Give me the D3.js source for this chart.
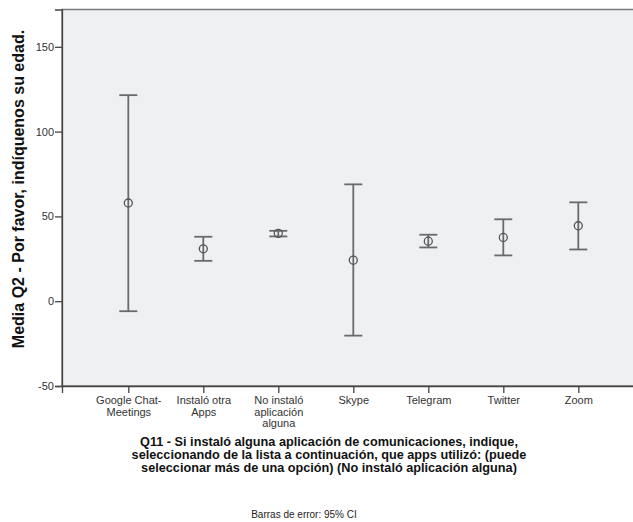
<!DOCTYPE html>
<html>
<head>
<meta charset="utf-8">
<script src="https://cdn.jsdelivr.net/npm/d3@7"></script>
<style>
  html, body { margin: 0; padding: 0; background: #ffffff; }
  svg { display: block; font-family: "Liberation Sans", Arial, sans-serif; }
</style>
</head>
<body>
<svg id="chart" width="633" height="522"></svg>
<script>
const categories = ["Google Chat-Meetings", "Instaló otra Apps", "No instaló aplicación alguna", "Skype", "Telegram", "Twitter", "Zoom"];
const tickLabels = [["Google Chat-", "Meetings"], ["Instaló otra", "Apps"], ["No instaló", "aplicación", "alguna"], ["Skype"], ["Telegram"], ["Twitter"], ["Zoom"]];
const means = [57.9, 30.9, 40.0, 24.2, 35.4, 37.6, 44.5];
const lowerCI = [-5.9, 23.8, 38.2, -20.3, 31.7, 27.0, 30.5];
const upperCI = [121.5, 38.0, 41.5, 68.9, 39.2, 48.3, 58.3];
const yTicks = [-50, 0, 50, 100, 150];
const yTitle = "Media Q2 - Por favor, indíquenos su edad.";
const xTitle = ["Q11 - Si instaló alguna aplicación de comunicaciones, indique,", "seleccionando de la lista a continuación, que apps utilizó: (puede", "seleccionar más de una opción) (No instaló aplicación alguna)"];
const footnote = "Barras de error: 95% CI";

(function () {
const svg = d3.select("#chart");
const pLeft = 62, pRight = 644.6, pTop = 9.5, pBottom = 386;

const x = d3.scalePoint().domain(categories).range([pLeft, pRight]).padding(0.884);
const y = d3.scaleLinear().domain([-50, 172]).range([pBottom, pTop]);

const data = categories.map((c, i) => ({ c, m: means[i], lo: lowerCI[i], hi: upperCI[i] }));

// plot background
svg.append("rect")
  .attr("x", pLeft).attr("y", pTop)
  .attr("width", pRight - pLeft).attr("height", pBottom - pTop)
  .attr("fill", "#eff0f2")
  .attr("stroke", "#7a7a7a").attr("stroke-width", 1.5);

// y axis
const yAxis = d3.axisLeft(y).tickValues(yTicks).tickSize(7).tickPadding(1).tickFormat(d => String(d));
const gy = svg.append("g").attr("transform", `translate(${pLeft},0)`).call(yAxis);
gy.select(".domain").attr("stroke", "#444").attr("stroke-width", 1.3);
gy.selectAll(".tick line").attr("stroke", "#444").attr("stroke-width", 1.3);
gy.selectAll(".tick text").attr("font-size", 11).attr("fill", "#333").attr("font-family", "Liberation Sans, Arial, sans-serif");

// x axis
const xAxis = d3.axisBottom(x).tickSize(7).tickFormat("");
const gx = svg.append("g").attr("transform", `translate(0,${pBottom})`).call(xAxis);
gx.select(".domain").attr("stroke", "#444").attr("stroke-width", 1.3);
gx.selectAll(".tick line").attr("stroke", "#444").attr("stroke-width", 1.3);
gx.selectAll(".tick").each(function (d, i) {
  const t = d3.select(this).append("text")
    .attr("text-anchor", "middle")
    .attr("font-size", 11)
    .attr("fill", "#333")
    .attr("font-family", "Liberation Sans, Arial, sans-serif");
  tickLabels[i].forEach((line, j) => {
    t.append("tspan").attr("x", 0).attr("y", 18 + j * 11.5).text(line);
  });
});

// error bars
const capW = 9;
const g = svg.append("g").attr("stroke", "#6a6a6a").attr("stroke-width", 1.8).attr("fill", "none");
g.selectAll("line.v").data(data).join("line").attr("class", "v")
  .attr("x1", d => x(d.c)).attr("x2", d => x(d.c))
  .attr("y1", d => y(d.hi)).attr("y2", d => y(d.lo));
g.selectAll("line.t").data(data).join("line").attr("class", "t")
  .attr("x1", d => x(d.c) - capW).attr("x2", d => x(d.c) + capW)
  .attr("y1", d => y(d.hi)).attr("y2", d => y(d.hi));
g.selectAll("line.b").data(data).join("line").attr("class", "b")
  .attr("x1", d => x(d.c) - capW).attr("x2", d => x(d.c) + capW)
  .attr("y1", d => y(d.lo)).attr("y2", d => y(d.lo));
svg.append("g").selectAll("circle").data(data).join("circle")
  .attr("cx", d => x(d.c)).attr("cy", d => y(d.m)).attr("r", 4)
  .attr("fill", "none").attr("stroke", "#555").attr("stroke-width", 1.3);

// y title
svg.append("text")
  .attr("transform", `translate(24,189) rotate(-90)`)
  .attr("text-anchor", "middle")
  .attr("font-size", 16).attr("font-weight", "bold").attr("fill", "#111")
  .text(yTitle);

// x title
const xt = svg.append("text").attr("text-anchor", "middle")
  .attr("font-size", 12.7).attr("font-weight", "bold").attr("fill", "#111");
xTitle.forEach((line, j) => {
  xt.append("tspan").attr("x", 329).attr("y", 446 + j * 13).text(line);
});

// footnote
svg.append("text").attr("x", 304).attr("y", 518)
  .attr("text-anchor", "middle").attr("font-size", 10).attr("fill", "#222")
  .text(footnote);
})();
</script>
</body>
</html>
